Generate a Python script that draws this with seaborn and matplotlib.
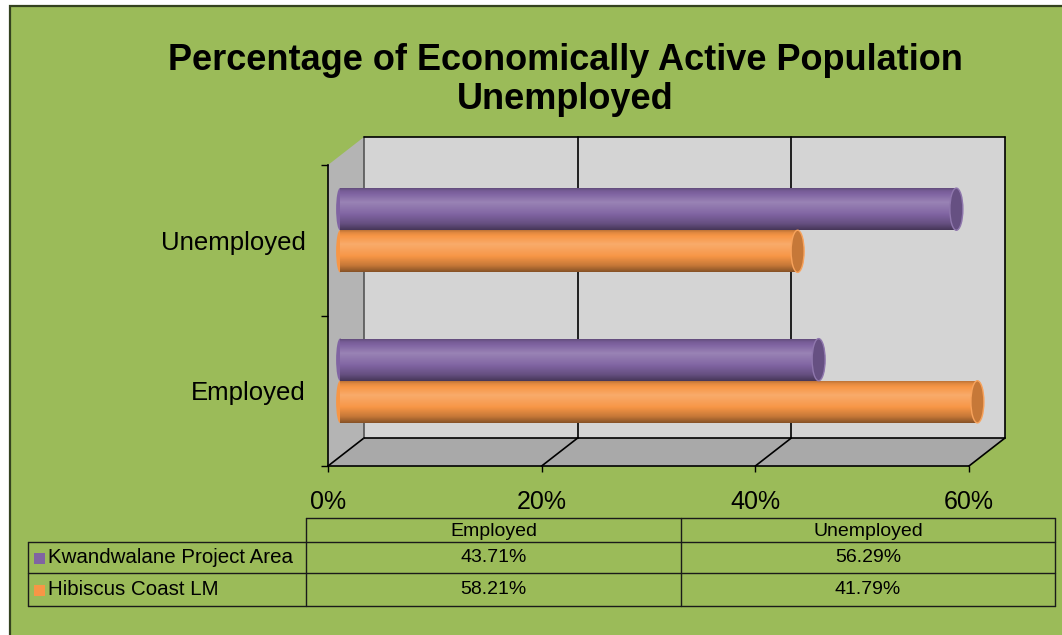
import numpy as np
import pandas as pd
import matplotlib
matplotlib.use("Agg")
import matplotlib.pyplot as plt
import seaborn as sns
from matplotlib.patches import Polygon, Rectangle, Ellipse
from matplotlib.lines import Line2D
from matplotlib.transforms import IdentityTransform
from matplotlib.colors import to_rgb

# ---------------- data ----------------
categories = ["Employed", "Unemployed"]
series = ["Kwandwalane Project Area", "Hibiscus Coast LM"]
kwandwalane = [43.71, 56.29]
hibiscus = [58.21, 41.79]
x_ticks = [0, 20, 40, 60]
x_tick_labels = ["0%", "20%", "40%", "60%"]
title = "Percentage of Economically Active Population\nUnemployed"
colors = ["#8064A2", "#F79646"]

df = pd.DataFrame({
    "category": categories * 2,
    "series": [series[0]] * len(categories) + [series[1]] * len(categories),
    "value": kwandwalane + hibiscus,
})

sns.set_theme(style="white")
plt.rcParams["font.family"] = ["Liberation Sans", "DejaVu Sans"]

W, H = 1062, 635
fig = plt.figure(figsize=(W / 100, H / 100), dpi=100)
fig.patch.set_facecolor("white")


def fx(px):
    return px / W


def fy(py):
    return 1 - py / H


GREEN = "#9BBB59"
# chart area
fig.add_artist(Rectangle((fx(10), -0.2), 1.2, fy(6) + 0.2, transform=fig.transFigure,
                         facecolor=GREEN, edgecolor="#34421f", lw=1.6, zorder=-5))

# ---------------- scale axes (front of the 3-D box) ----------------
ax = fig.add_axes([fx(328), fy(466), fx(969) - fx(328), (466 - 165) / H])
ax.set_xlim(x_ticks[0], x_ticks[-1])
ax.set_ylim(-0.5, len(categories) - 0.5)
ax.patch.set_alpha(0)
ax.set_zorder(1)
for s in ["top", "right"]:
    ax.spines[s].set_visible(False)
for s in ["left", "bottom"]:
    ax.spines[s].set_color("black")
    ax.spines[s].set_linewidth(1.2)
ax.set_xticks(x_ticks)
ax.set_xticklabels(x_tick_labels)
ax.tick_params(axis="x", bottom=True, length=4, width=1, color="black",
               direction="out", pad=13, labelsize=18, labelcolor="black")
ax.set_yticks(np.arange(-0.5, len(categories), 1.0))
ax.set_yticklabels([])
ax.set_yticks(np.arange(len(categories)), minor=True)
ax.set_yticklabels(categories, minor=True)
ax.tick_params(axis="y", which="major", left=True, length=5, width=1, color="black")
ax.tick_params(axis="y", which="minor", left=True, length=0, pad=16, labelsize=18.5,
               labelcolor="black")
ax.set_xlabel("")
ax.set_ylabel("")

# ---------------- 3-D walls (decoration) ----------------
fig.canvas.draw()
DX, DY = 36, 28
ylo, yhi = -0.5, len(categories) - 0.5
xlo, xhi = x_ticks[0], x_ticks[-1]


def D(x, y, back=False):
    p = ax.transData.transform((x, y))
    if back:
        p = p + np.array([DX, DY])
    return p


idt = IdentityTransform()
back = [D(xlo, ylo, True), D(xhi, ylo, True), D(xhi, yhi, True), D(xlo, yhi, True)]
fig.add_artist(Polygon(back, closed=True, transform=idt, facecolor="#D4D4D4",
                       edgecolor="none", zorder=-2))
side = [D(xlo, ylo), D(xlo, yhi), D(xlo, yhi, True), D(xlo, ylo, True)]
fig.add_artist(Polygon(side, closed=True, transform=idt, facecolor="#B4B4B4",
                       edgecolor="none", zorder=-2))
floor = [D(xlo, ylo), D(xhi, ylo), D(xhi, ylo, True), D(xlo, ylo, True)]
fig.add_artist(Polygon(floor, closed=True, transform=idt, facecolor="#A9A9A9",
                       edgecolor="none", zorder=-2))
# gridlines on the back wall and floor
for xv in x_ticks:
    a, b = D(xv, ylo), D(xv, ylo, True)
    fig.add_artist(Line2D([a[0], b[0]], [a[1], b[1]], transform=idt, color="black",
                          lw=1.2, zorder=-1))
    c = D(xv, yhi, True)
    col = "#555555" if xv == xlo else "black"
    fig.add_artist(Line2D([b[0], c[0]], [b[1], c[1]], transform=idt, color=col,
                          lw=1.2, zorder=-1))
for yv in [ylo, yhi]:
    a, b = D(xlo, yv, True), D(xhi, yv, True)
    fig.add_artist(Line2D([a[0], b[0]], [a[1], b[1]], transform=idt, color="black",
                          lw=1.2, zorder=-1))

# ---------------- bars ----------------
bx = fig.add_axes([fx(340), fy(456), fx(997) - fx(340), (456 - 155) / H])
bx.set_zorder(2)
sns.barplot(data=df, y="category", x="value", hue="series", order=categories[::-1],
            hue_order=series, palette=dict(zip(series, colors)), orient="h",
            width=0.56, ax=bx, legend=False, saturation=1, edgecolor="none")
bx.set_xlim(xlo, xhi)
bx.set_ylim(len(categories) - 0.5, -0.5)
bx.axis("off")
bx.patch.set_alpha(0)


def shade(rgb, f):
    rgb = np.array(rgb)
    if f >= 1:
        return rgb + (1 - rgb) * (f - 1)
    return rgb * f


prof_t = [0.0, 0.08, 0.35, 0.6, 0.85, 1.0]
prof_f = [0.72, 0.92, 1.2, 1.03, 0.8, 0.55]
px_per_x = (997 - 340) / (xhi - xlo)
cw = 13 / px_per_x
for patch in list(bx.patches):
    x0, y0, w, h = patch.get_x(), patch.get_y(), patch.get_width(), patch.get_height()
    if w <= 0:
        continue
    base = to_rgb(patch.get_facecolor())
    t = np.linspace(0, 1, 64)
    f = np.interp(t, prof_t, prof_f)
    grad = np.array([shade(base, v) for v in f]).clip(0, 1)[:, None, :]
    # rounded left end
    lend = Ellipse((x0, y0 + h / 2), cw * 0.6, h, facecolor=base, edgecolor="none",
                   zorder=2, clip_on=False)
    bx.add_patch(lend)
    im0 = bx.imshow(grad, extent=(x0 - cw, x0 + w, y0 + h, y0), origin="upper",
                    aspect="auto", zorder=2.5, interpolation="bilinear")
    im0.set_clip_box(None)
    im0.set_clip_path(lend)
    im = bx.imshow(grad, extent=(x0, x0 + w, y0 + h, y0), origin="upper",
                   aspect="auto", zorder=3, interpolation="bilinear")
    im.set_clip_path(patch)
    bx.add_patch(Ellipse((x0 + w, y0 + h / 2), cw, h, facecolor=shade(base, 0.8),
                         edgecolor=shade(base, 1.12), lw=1.0, zorder=4, clip_on=False))
bx.set_xlim(xlo, xhi)
bx.set_ylim(len(categories) - 0.5, -0.5)

# ---------------- title ----------------
fig.text(fx(565), fy(80), title, ha="center", va="center", fontsize=26,
         fontweight="bold", color="black", linespacing=1.18)

# ---------------- data table ----------------
cols = [28, 306, 681, 1055]
rows = [518, 542, 573, 606]
lc = "#1a1a1a"


def hline(py, x0, x1):
    fig.add_artist(Line2D([fx(x0), fx(x1)], [fy(py), fy(py)], transform=fig.transFigure,
                          color=lc, lw=1.0))


def vline(px, y0, y1):
    fig.add_artist(Line2D([fx(px), fx(px)], [fy(y0), fy(y1)], transform=fig.transFigure,
                          color=lc, lw=1.0))


hline(rows[0], cols[1], cols[3])
for r in rows[1:]:
    hline(r, cols[0], cols[3])
vline(cols[0], rows[1], rows[3])
for c in cols[1:]:
    vline(c, rows[0], rows[3])

for j, cat in enumerate(categories):
    fig.text(fx((cols[j + 1] + cols[j + 2]) / 2), fy((rows[0] + rows[1]) / 2 + 1), cat,
             ha="center", va="center", fontsize=14, color="black")
values = [kwandwalane, hibiscus]
for i, (name, vals, col) in enumerate(zip(series, values, colors)):
    yc = (rows[i + 1] + rows[i + 2]) / 2
    fig.add_artist(Rectangle((fx(34), fy(yc + 6)), 11 / W, 11 / H,
                             transform=fig.transFigure, facecolor=col, edgecolor="none"))
    fig.text(fx(48), fy(yc), name, ha="left", va="center", fontsize=14.8, color="black")
    for j, v in enumerate(vals):
        fig.text(fx((cols[j + 1] + cols[j + 2]) / 2), fy(yc), f"{v:.2f}%",
                 ha="center", va="center", fontsize=14, color="black")

fig.savefig("out.png", dpi=100, facecolor=fig.get_facecolor())
